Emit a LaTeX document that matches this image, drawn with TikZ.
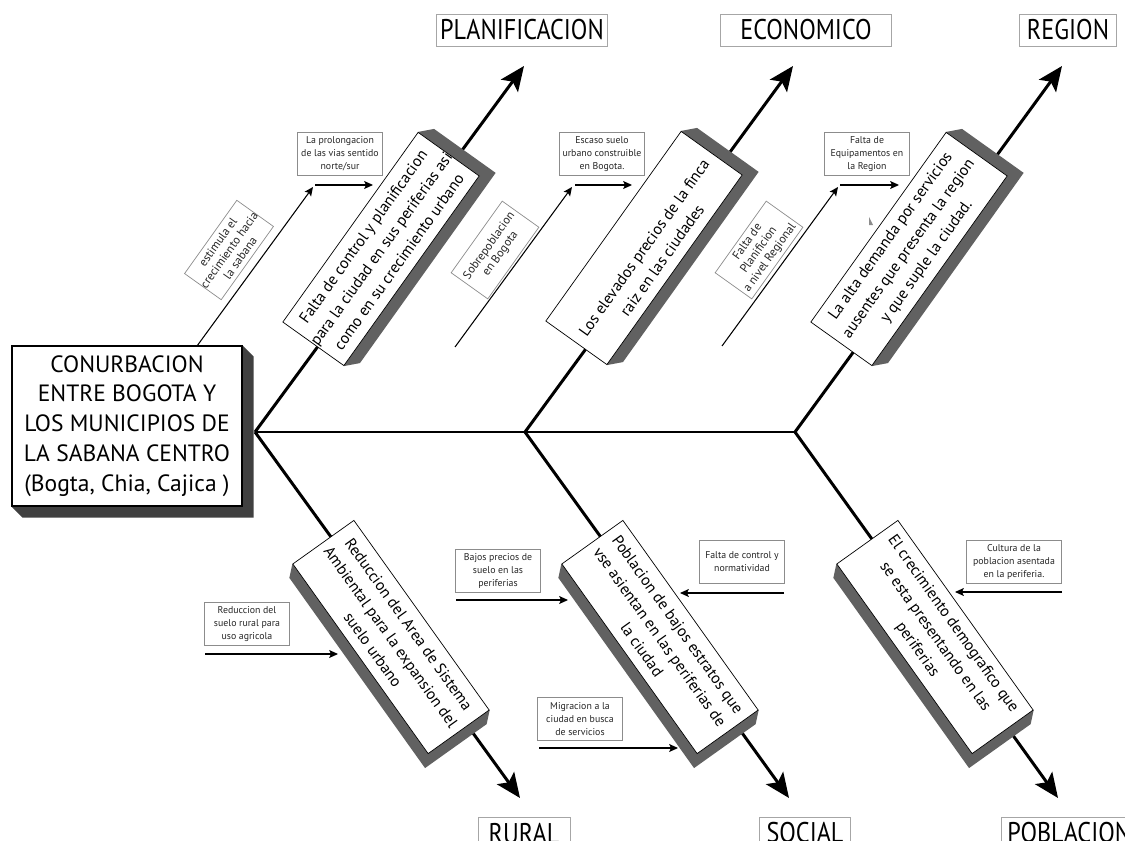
\documentclass[tikz,border=0pt]{standalone}
\usepackage{fontspec}
\setmainfont{PT Sans}
\newfontfamily\narrowsans{PT Sans}[FakeStretch=0.85]
\usetikzlibrary{arrows.meta,backgrounds}

\begin{document}
\begin{tikzpicture}[x=0.02cm,y=-0.02cm,semithick,
  spine/.style={line width=1.7pt},
  bone/.style={line width=1.7pt,-{Stealth[length=14pt,width=12pt,inset=3pt]}},
  link/.style={line width=.6pt,-{Stealth[length=5pt,width=4.5pt,inset=1pt]}},
  mainbox/.style={draw,line width=.6pt,fill=white,minimum width=4.6cm,minimum height=3.2cm,inner sep=0pt,align=center,font=\fontsize{13.4}{17}\selectfont},
  face/.style={draw,line width=.4pt,fill=white,inner sep=0pt,minimum width=4.66cm,minimum height=1.5cm},
  facetext/.style={align=center,inner sep=0pt,font=\fontsize{9}{12.5}\selectfont},
  slabside/.style={fill=black!62},
  headside/.style={fill=black!75},
  why/.style={draw=black!45,line width=.4pt,fill=white,inner sep=0pt,minimum width=1.7cm,minimum height=.86cm,align=center,text=black!85,font=\fontsize{5.6}{7.4}\selectfont},
  tilt/.style={why,rotate=54.5,minimum width=1.76cm,minimum height=.9cm,font=\fontsize{6.8}{7.8}\selectfont},
  cat/.style={draw=black!35,line width=.5pt,inner sep=0pt,minimum height=.64cm,font=\narrowsans\fontsize{16.2}{16.2}\selectfont}]
\useasboundingbox (0,0) rectangle (1125,841);
\coordinate (J1) at (255,432); \coordinate (J2) at (525,432); \coordinate (J3) at (795,432);
\coordinate (U1) at (524,66); \coordinate (U2) at (793,66); \coordinate (U3) at (1062,66);
\coordinate (D1) at (520,798); \coordinate (D2) at (789,798); \coordinate (D3) at (1058,798);
% problema central
\node[mainbox] (H) at (127,426) {CONURBACION\\ENTRE BOGOTA Y\\LOS MUNICIPIOS DE\\LA SABANA CENTRO\\(Bogta, Chia, Cajica )};
% categorias
\node[cat,minimum width=3.42cm] (L1) at (522,30) {PLANIFICACION};
\node[cat,minimum width=3.42cm] (L2) at (806,30) {ECONOMICO};
\node[cat,minimum width=1.94cm] (L3) at (1068,30) {REGION};
\node[cat,minimum width=1.84cm] (L4) at (524,833) {RURAL};
\node[cat,minimum width=1.82cm] (L5) at (805,833) {SOCIAL};
\node[cat,anchor=west,inner xsep=.12cm] (L6) at (1001,833) {POBLACION};
% causas
\node[face,rotate=54.5] (F1) at (381,249) {};
\node[facetext,rotate=54.5] at (F1.center) {Falta de control y planificacion\\para la ciudad en sus periferias asi\\como en su crecimiento urbano};
\node[face,rotate=54.5] (F2) at (644,248) {};
\node[facetext,rotate=54.5] at (653,254) {Los elevados precios de la finca\\raiz en las ciudades};
\node[face,rotate=54.5] (F3) at (909,249) {};
\node[facetext,rotate=54.5] at (F3.center) {La alta demanda por servicios\\ausentes que presenta la region\\y que suple la ciudad.};
\node[face,rotate=-54.5] (F4) at (391,637) {};
\node[facetext,rotate=-54.5] at (F4.center) {Reduccion del Area de Sistema\\Ambiental para la expansion del\\suelo urbano};
\node[face,rotate=-54.5] (F5) at (660,637) {};
\node[facetext,rotate=-54.5] at (F5.center) {Poblacion de bajos estratos que\\vse asientan en las periferias de\\la ciudad};
\node[face,rotate=-54.5] (F6) at (935,637) {};
\node[facetext,rotate=-54.5] at (F6.center) {El crecimiento demografico que\\se esta presentando en las\\periferias};
% subcausas
\node[why] (C1) at (340,154) {La prolongacion\\de las vias sentido\\norte/sur};
\node[why] (C2) at (602,154) {Escaso suelo\\urbano construible\\en Bogota.};
\node[why] (C3) at (867,154) {Falta de\\Equipamentos en\\la Region};
\node[why] (C4) at (247,624) {Reduccion del\\suelo rural para\\uso agricola};
\node[why] (C5) at (498,571) {Bajos precios de\\suelo en las\\periferias};
\node[why] (C6) at (580,719) {Migracion a la\\ciudad en busca\\de servicios};
\node[why] (C7) at (742,562) {Falta de control y\\normatividad};
\node[why,minimum width=1.9cm] (C8) at (1014,562) {Cultura de la\\poblacion asentada\\en la periferia.};
\node[tilt] (R1) at (229,250) {estimula el\\crecimiento hacia\\la sabana};
\node[tilt] (R2) at (495,250) {Sobrepoblacion\\en Bogota};
\node[tilt] (R3) at (759,250) {Falta de\\Planificion\\a nivel Regional};
% flechas
\coordinate (s1) at (197,346); \coordinate (e1) at (313,187);
\coordinate (s2) at (455,347); \coordinate (e2) at (572,187);
\coordinate (s3) at (722,346); \coordinate (e3) at (838,187);
\coordinate (s4) at (315,185); \coordinate (e4) at (373,185);
\coordinate (s5) at (575,185); \coordinate (e5) at (632,185);
\coordinate (s6) at (840,185); \coordinate (e6) at (899,185);
\coordinate (s7) at (205,654); \coordinate (e7) at (338,654);
\coordinate (s8) at (456,600); \coordinate (e8) at (568,600);
\coordinate (s9) at (539,748); \coordinate (e9) at (678,748);
\coordinate (s10) at (784,593); \coordinate (e10) at (680,593);
\coordinate (s11) at (1062,592); \coordinate (e11) at (955,592);
\draw[link](s1)--(e1); \draw[link](s2)--(e2); \draw[link](s3)--(e3);
\draw[link](s4)--(e4); \draw[link](s5)--(e5); \draw[link](s6)--(e6);
\draw[link](s7)--(e7); \draw[link](s8)--(e8); \draw[link](s9)--(e9);
\draw[link](s10)--(e10); \draw[link](s11)--(e11);
\fill[black!45] (869,217)--(873,225)--(869,225)--cycle;
\begin{scope}[on background layer]
\draw[spine] (J1)--(J3);
\draw[bone] (J1)--(U1); \draw[bone] (J2)--(U2); \draw[bone] (J3)--(U3);
\draw[bone] (J1)--(D1); \draw[bone] (J2)--(D2); \draw[bone] (J3)--(D3);
\fill[headside] (H.north east)--++(11,11)--([shift={(11,11)}]H.south east)--([shift={(11,11)}]H.south west)--(H.south west)--cycle;
\fill[slabside] (F1.north east)--++(16,-3)--([shift={(16,-3)}]F1.south east)--([shift={(16,-3)}]F1.south west)--(F1.south west)--cycle;
\fill[slabside] (F2.north east)--++(16,-3)--([shift={(16,-3)}]F2.south east)--([shift={(16,-3)}]F2.south west)--(F2.south west)--cycle;
\fill[slabside] (F3.north east)--++(16,-3)--([shift={(16,-3)}]F3.south east)--([shift={(16,-3)}]F3.south west)--(F3.south west)--cycle;
\fill[slabside] (F4.south west)--++(-3,14)--([shift={(-3,14)}]F4.south east)--([shift={(-3,14)}]F4.north east)--(F4.north east)--cycle;
\fill[slabside] (F5.south west)--++(-3,14)--([shift={(-3,14)}]F5.south east)--([shift={(-3,14)}]F5.north east)--(F5.north east)--cycle;
\fill[slabside] (F6.south west)--++(-3,14)--([shift={(-3,14)}]F6.south east)--([shift={(-3,14)}]F6.north east)--(F6.north east)--cycle;
\end{scope}
\end{tikzpicture}
\end{document}
